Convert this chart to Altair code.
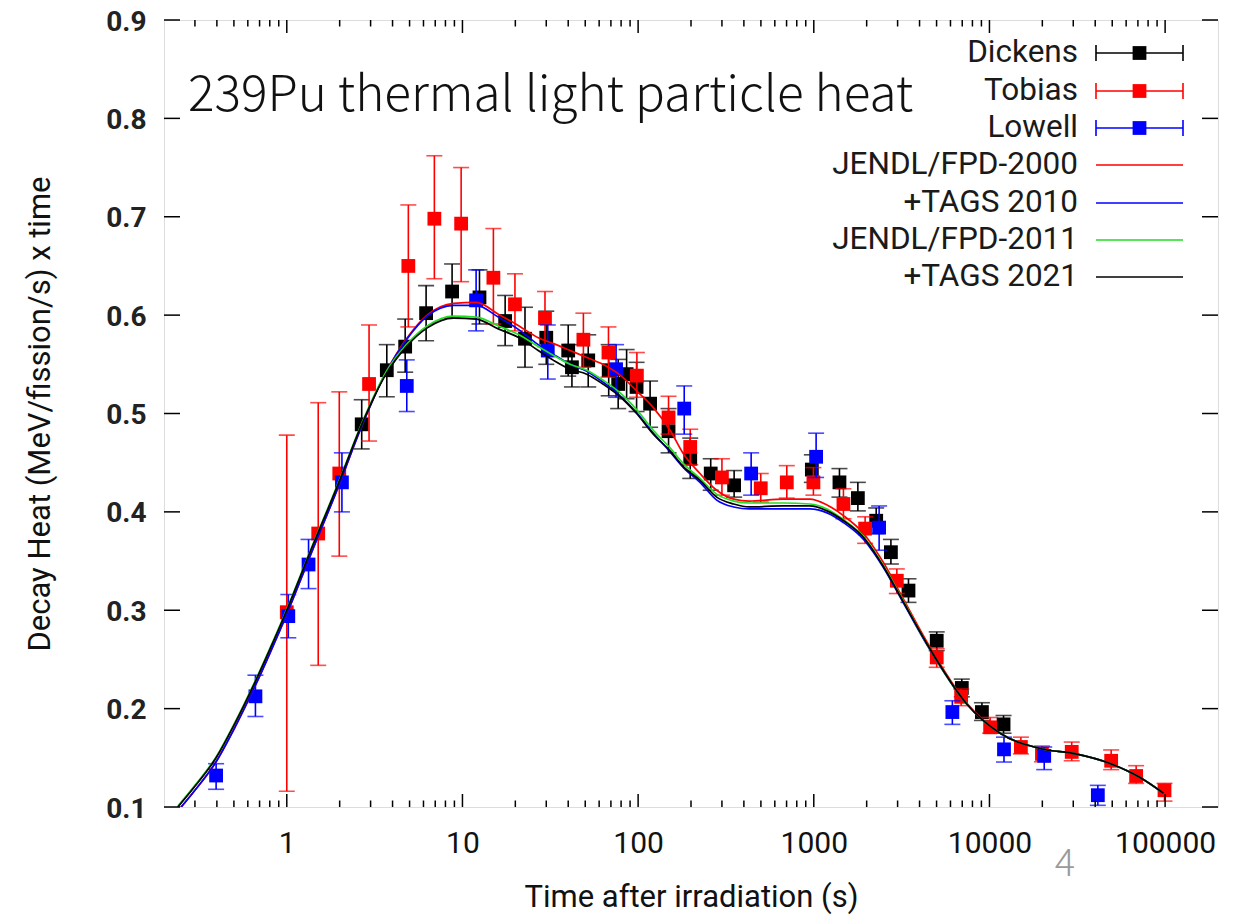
import altair as alt
import pandas as pd

# ---------------- data ----------------
# Dickens (black)
dk_t  = [2.67, 3.71, 4.72, 6.21, 8.73, 12.5, 17.5, 22.7, 30.0, 40.0, 42.0, 52.0, 68.0, 77.0, 86.0, 98.0,
         117, 149, 198, 259, 352, 975, 1400, 1782, 2266, 2748, 3460, 5010, 6960, 9060, 12030]
dk_v  = [0.489, 0.544, 0.568, 0.602, 0.624, 0.618, 0.594, 0.576, 0.577, 0.564, 0.547, 0.554, 0.544, 0.530, 0.540, 0.527,
         0.510, 0.482, 0.454, 0.439, 0.427, 0.443, 0.430, 0.414, 0.391, 0.359, 0.320, 0.269, 0.221, 0.1965, 0.184]
dk_lo = [0.464, 0.517, 0.542, 0.574, 0.597, 0.591, 0.569, 0.547, 0.550, 0.538, 0.527, 0.527, 0.518, 0.505, 0.515, 0.502,
         0.486, 0.460, 0.434, 0.422, 0.415, 0.430, 0.415, 0.401, 0.378, 0.347, 0.308, 0.259, 0.212, 0.188, 0.175]
dk_hi = [0.514, 0.570, 0.596, 0.630, 0.652, 0.646, 0.620, 0.608, 0.604, 0.590, 0.570, 0.580, 0.570, 0.555, 0.565, 0.552,
         0.533, 0.505, 0.475, 0.454, 0.442, 0.458, 0.444, 0.430, 0.404, 0.372, 0.332, 0.278, 0.230, 0.206, 0.193]

# Tobias (red)
tb_t  = [1.0, 1.51, 1.99, 2.94, 4.92, 6.92, 9.83, 15.0, 19.9, 29.5, 48.8, 67.8, 98.4, 149, 198, 300, 499, 702, 995,
         1475, 1960, 2970, 5010, 6900, 10090, 15100, 19900, 29400, 49300, 68400, 99200]
tb_v  = [0.298, 0.378, 0.439, 0.530, 0.650, 0.698, 0.693, 0.638, 0.611, 0.597, 0.575, 0.562, 0.5385, 0.496, 0.466, 0.435,
         0.424, 0.430, 0.430, 0.408, 0.383, 0.330, 0.252, 0.212, 0.181, 0.161, 0.154, 0.156, 0.147, 0.1315, 0.117]
tb_lo = [0.116, 0.244, 0.355, 0.472, 0.588, 0.637, 0.634, 0.591, 0.584, 0.568, 0.547, 0.537, 0.5165, 0.479, 0.448, 0.417,
         0.410, 0.414, 0.417, 0.393, 0.368, 0.317, 0.242, 0.203, 0.175, 0.154, 0.146, 0.147, 0.138, 0.124, 0.106]
tb_hi = [0.478, 0.511, 0.522, 0.590, 0.712, 0.762, 0.750, 0.688, 0.642, 0.624, 0.602, 0.588, 0.562, 0.5175, 0.484, 0.454,
         0.439, 0.447, 0.445, 0.4235, 0.395, 0.342, 0.261, 0.220, 0.191, 0.171, 0.162, 0.166, 0.158, 0.142, 0.124]

# Lowell (blue)
lw_t  = [0.396, 0.663, 1.02, 1.33, 2.06, 4.82, 11.96, 30.6, 74.9, 183, 440, 1031, 2355, 6150, 12100, 20500, 41400]
lw_v  = [0.132, 0.2125, 0.294, 0.3465, 0.430, 0.528, 0.615, 0.564, 0.545, 0.505, 0.439, 0.456, 0.384, 0.1965, 0.1586, 0.152, 0.112]
lw_lo = [0.118, 0.192, 0.272, 0.322, 0.400, 0.502, 0.584, 0.535, 0.5165, 0.479, 0.417, 0.435, 0.361, 0.184, 0.1457, 0.138, 0.1017]
lw_hi = [0.144, 0.234, 0.316, 0.372, 0.460, 0.5545, 0.646, 0.590, 0.570, 0.528, 0.460, 0.480, 0.406, 0.208, 0.171, 0.161, 0.122]

# calculation curves
cv_t = [0.24, 0.3, 0.396, 0.5, 0.66, 0.8, 1.0, 1.35, 2.0, 2.6, 3.7, 4.8, 6.3, 8.9, 12, 16, 21, 27, 33, 41, 51, 63, 79, 98,
        122, 152, 181, 225, 280, 350, 430, 670, 950, 1190, 1480, 1920, 2500, 3200, 4400, 7400, 11500, 20000,
        31000, 49000, 72000, 98000]
cv_black = [0.100, 0.121, 0.150, 0.183, 0.227, 0.260, 0.300, 0.358, 0.432, 0.484, 0.541, 0.568, 0.587, 0.597, 0.596, 0.586,
            0.577, 0.564, 0.554, 0.545, 0.540, 0.530, 0.517, 0.500, 0.479, 0.462, 0.446, 0.432, 0.415, 0.408, 0.405,
            0.406, 0.406, 0.401, 0.391, 0.374, 0.344, 0.310, 0.266, 0.205, 0.175, 0.159, 0.154, 0.144, 0.130, 0.114]
cv_green = [0.101, 0.122, 0.151, 0.184, 0.228, 0.261, 0.301, 0.359, 0.433, 0.485, 0.543, 0.570, 0.589, 0.599, 0.598, 0.589,
            0.580, 0.568, 0.559, 0.550, 0.544, 0.534, 0.521, 0.504, 0.483, 0.465, 0.449, 0.434, 0.418, 0.411, 0.409,
            0.409, 0.408, 0.403, 0.392, 0.375, 0.345, 0.311, 0.266, 0.205, 0.175, 0.159, 0.154, 0.144, 0.130, 0.114]
cv_blue = [0.096, 0.117, 0.146, 0.179, 0.223, 0.256, 0.296, 0.354, 0.429, 0.482, 0.543, 0.575, 0.599, 0.610, 0.610, 0.598,
           0.585, 0.570, 0.560, 0.550, 0.543, 0.532, 0.518, 0.501, 0.480, 0.461, 0.445, 0.430, 0.412, 0.405, 0.403,
           0.403, 0.403, 0.399, 0.389, 0.372, 0.343, 0.309, 0.265, 0.205, 0.175, 0.159, 0.154, 0.144, 0.130, 0.114]
cv_red = [0.096, 0.117, 0.146, 0.179, 0.223, 0.256, 0.296, 0.354, 0.429, 0.482, 0.543, 0.576, 0.600, 0.612, 0.613, 0.601,
          0.589, 0.577, 0.571, 0.564, 0.557, 0.550, 0.539, 0.523, 0.506, 0.483, 0.459, 0.439, 0.422, 0.413, 0.411,
          0.413, 0.413, 0.407, 0.396, 0.378, 0.348, 0.313, 0.268, 0.206, 0.175, 0.159, 0.154, 0.144, 0.130, 0.114]

legend_names = ["Dickens", "Tobias", "Lowell", "JENDL/FPD-2000", "+TAGS 2010", "JENDL/FPD-2011", "+TAGS 2021"]
legend_colors = ["#000000", "#ff0000", "#0000ff", "#ff0000", "#0000ff", "#22dd22", "#000000"]
legend_kind = ["exp", "exp", "exp", "line", "line", "line", "line"]

x_major = [1, 10, 100, 1000, 10000, 100000]
x_minor = [0.3, 0.4, 0.5, 0.6, 0.7, 0.8, 0.9,
           2, 3, 4, 5, 6, 7, 8, 9,
           20, 30, 40, 50, 60, 70, 80, 90,
           200, 300, 400, 500, 600, 700, 800, 900,
           2000, 3000, 4000, 5000, 6000, 7000, 8000, 9000,
           20000, 30000, 40000, 50000, 60000, 70000, 80000, 90000]
y_major = [0.1, 0.2, 0.3, 0.4, 0.5, 0.6, 0.7, 0.8, 0.9]

title_text = "239Pu thermal light particle heat"
page_number = "4"

# ---------------- chart ----------------
W, H = 1054, 787
FONT = "Roboto"
xs = alt.Scale(type="log", domain=[0.2, 200000])
ys = alt.Scale(domain=[0.1, 0.9], nice=False, zero=False)

x_axis = alt.Axis(values=x_major, format="d", title="Time after irradiation (s)", grid=False, ticks=False,
                  domain=False, labelFont=FONT, labelFontSize=30, labelPadding=21, labelColor="#111111",
                  labelFlush=False, labelOverlap=False,
                  titleFont=FONT, titleFontSize=31, titleFontWeight="normal", titleColor="#111111",
                  titleX=W / 2, titleY=90, titleAlign="center", titleBaseline="middle")
y_axis = alt.Axis(values=y_major, format=".1f", title="Decay Heat (MeV/fission/s) x time", grid=False,
                  ticks=False, domain=False, labelFont=FONT, labelFontSize=28, labelFontWeight="bold",
                  labelPadding=18, labelOffset=2, labelColor="#222222", labelFlush=False, labelOverlap=False,
                  titleFont=FONT, titleFontSize=31, titleFontWeight="normal", titleColor="#111111",
                  titleX=-124, titleY=H / 2, titleAngle=270, titleAlign="center", titleBaseline="middle")

X = lambda f: alt.X(f, type="quantitative", scale=xs, axis=x_axis)
Y = lambda f: alt.Y(f, type="quantitative", scale=ys, axis=y_axis)

layers = []


def exp_series(t, v, lo, hi, color):
    df = pd.DataFrame({"t": t, "v": v, "lo": lo, "hi": hi})
    base = alt.Chart(df)
    return [
        base.mark_rule(color=color, strokeWidth=1.6).encode(x=X("t"), y=Y("lo"), y2="hi"),
        base.mark_tick(color=color, orient="horizontal", size=16, thickness=1.6).encode(x=X("t"), y=Y("lo")),
        base.mark_tick(color=color, orient="horizontal", size=16, thickness=1.6).encode(x=X("t"), y=Y("hi")),
        base.mark_point(shape="square", filled=True, size=190, color=color, opacity=1).encode(x=X("t"), y=Y("v")),
    ]


layers += exp_series(dk_t, dk_v, dk_lo, dk_hi, "#000000")
layers += exp_series(tb_t, tb_v, tb_lo, tb_hi, "#ff0000")
layers += exp_series(lw_t, lw_v, lw_lo, lw_hi, "#0000ff")

curves = pd.DataFrame({"t": cv_t, "red": cv_red, "blue": cv_blue, "green": cv_green, "black": cv_black})
for col, colr in [("red", "#ff0000"), ("blue", "#0000ff"), ("green", "#22dd22"), ("black", "#000000")]:
    layers.append(alt.Chart(curves).mark_line(color=colr, strokeWidth=1.7, interpolate="monotone", clip=True)
                  .encode(x=X("t"), y=Y(col)))

# inward ticks (mirrored on all four sides)
mj = pd.DataFrame({"t": x_major})
mn = pd.DataFrame({"t": x_minor})
yt = pd.DataFrame({"v": y_major})
tick_style = dict(color="#000000", strokeWidth=1.5)
layers += [
    alt.Chart(mj).mark_rule(**tick_style).encode(x=X("t"), y=alt.value(H), y2=alt.value(H - 13)),
    alt.Chart(mj).mark_rule(**tick_style).encode(x=X("t"), y=alt.value(0), y2=alt.value(13)),
    alt.Chart(mn).mark_rule(**tick_style).encode(x=X("t"), y=alt.value(H), y2=alt.value(H - 6.5)),
    alt.Chart(mn).mark_rule(**tick_style).encode(x=X("t"), y=alt.value(0), y2=alt.value(6.5)),
    alt.Chart(yt).mark_rule(**tick_style).encode(y=Y("v"), x=alt.value(0), x2=alt.value(16)),
    alt.Chart(yt).mark_rule(**tick_style).encode(y=Y("v"), x=alt.value(W), x2=alt.value(W - 16)),
]

# legend (key at the top right, labels right-aligned)
LX_LABEL, LX0, LX1 = 914, 932, 1019
row_y = [33, 71, 108, 145, 183, 220, 257]
for name, colr, kind, yy in zip(legend_names, legend_colors, legend_kind, row_y):
    layers.append(alt.Chart(pd.DataFrame({"label": [name]})).mark_text(
        align="right", baseline="middle", font=FONT, fontSize=31.5, color="#1a1a1a").encode(
        text="label:N", x=alt.value(LX_LABEL), y=alt.value(yy)))
    layers.append(alt.Chart(pd.DataFrame({"k": [kind]})).mark_rule(color=colr, strokeWidth=1.6).encode(
        x=alt.value(LX0), x2=alt.value(LX1), y=alt.value(yy)))
    if kind == "exp":
        for xx in (LX0, LX1):
            layers.append(alt.Chart(pd.DataFrame({"k": [kind]})).mark_rule(color=colr, strokeWidth=1.6).encode(
                x=alt.value(xx), y=alt.value(yy - 8), y2=alt.value(yy + 8)))
        layers.append(alt.Chart(pd.DataFrame({"k": [kind]})).mark_point(
            shape="square", filled=True, size=190, color=colr, opacity=1).encode(
            x=alt.value((LX0 + LX1) / 2), y=alt.value(yy)))

# slide title and page number
layers.append(alt.Chart(pd.DataFrame({"s": [title_text]})).mark_text(
    align="left", baseline="alphabetic", font="Noto Sans CJK JP", fontSize=49.5, fontWeight=300,
    color="#111111").encode(text="s:N", x=alt.value(24), y=alt.value(91)))
layers.append(alt.Chart(pd.DataFrame({"s": [page_number]})).mark_text(
    align="center", baseline="middle", font="Noto Sans CJK JP", fontSize=38, fontWeight=300,
    color="#9a9a9a").encode(text="s:N", x=alt.value(901), y=alt.value(845)))

chart = alt.layer(*layers).properties(
    width=W, height=H,
    autosize=alt.AutoSizeParams(type="none"),
    padding={"left": 156, "top": 12, "right": 10, "bottom": 108},
).configure_view(stroke="#000000", strokeWidth=1.6).configure(background="white")

chart.save("out.html", embed_options={"renderer": "svg", "actions": False})
